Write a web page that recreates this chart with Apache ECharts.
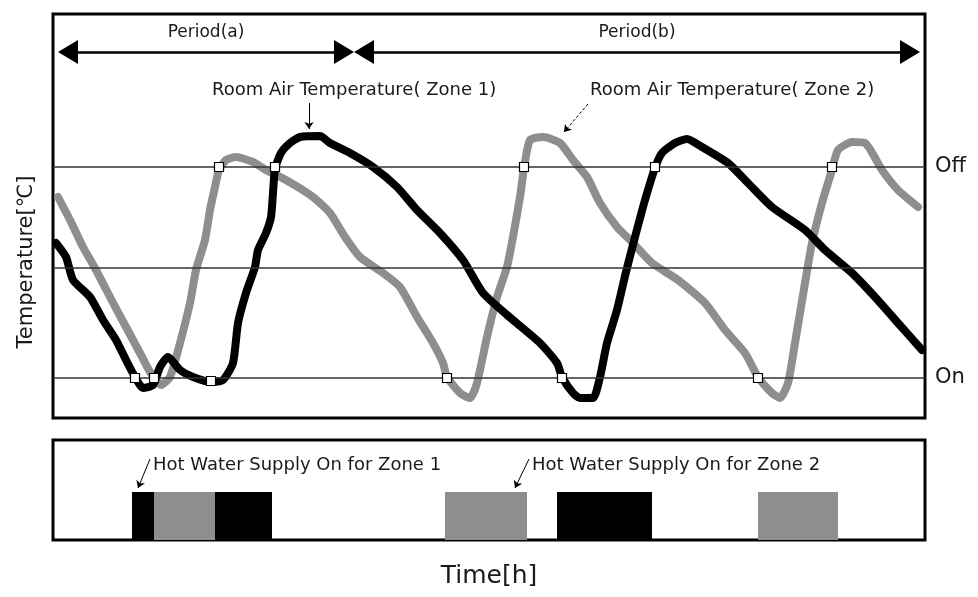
<!DOCTYPE html>
<html>
<head>
<meta charset="utf-8">
<title>Room air temperature and hot water supply</title>
<script src="https://cdn.jsdelivr.net/npm/echarts@6/dist/echarts.min.js"></script>
<style>
    html, body { margin: 0; padding: 0; background: #fff; }
    #main { width: 978px; height: 597px; }
</style>
</head>
<body>
<div id="main"></div>
<script>
    // room air temperature, zone 1 (black) and zone 2 (grey)
    var zone1Time = [3, 13, 20, 37, 50, 63, 73, 82, 90, 100, 107, 115, 127, 140, 158, 170, 180, 185, 193, 202,
        205, 213, 218, 220, 222, 228, 237, 247, 267, 277, 297, 320, 344, 364, 387, 410, 430, 460, 487, 504,
        509, 520, 527, 540, 547, 554, 564, 573, 582, 592, 602, 609, 622, 634, 649, 675, 695, 719, 752, 772,
        799, 822, 845, 869];
    var zone1Temp = [175, 161, 138, 121, 98, 78, 58, 41, 30, 33, 51, 61, 48, 41, 36, 38, 55, 95, 125, 151,
        168, 185, 201, 225, 249, 265, 275, 281, 282, 275, 265, 251, 231, 208, 185, 158, 125, 98, 75, 55,
        41, 25, 20, 20, 41, 75, 108, 146, 181, 218, 250, 265, 275, 279, 271, 255, 235, 211, 188, 168,
        145, 121, 95, 68];
    var zone2Time = [5, 17, 30, 43, 57, 73, 87, 97, 101, 108, 117, 127, 137, 143, 152, 157, 162, 166, 173, 183,
        200, 213, 233, 260, 277, 292, 307, 330, 347, 364, 380, 390, 394, 407, 417, 424, 434, 444, 454, 460,
        467, 471, 477, 490, 507, 520, 534, 547, 564, 580, 599, 625, 652, 672, 692, 705, 719, 727, 735, 742,
        752, 759, 769, 779, 785, 799, 812, 829, 845, 865];
    var zone2Temp = [221, 198, 171, 148, 121, 91, 65, 46, 41, 33, 41, 75, 115, 148, 178, 208, 231, 248, 258, 261,
        256, 248, 238, 221, 205, 181, 161, 145, 131, 101, 75, 55, 41, 25, 20, 35, 81, 121, 151, 181,
        221, 250, 278, 281, 275, 258, 241, 215, 191, 175, 155, 138, 115, 88, 65, 41, 25, 20, 35, 75,
        135, 175, 215, 248, 268, 276, 275, 248, 228, 211];

    // thermostat switching points
    var zone1Switch = [[82, 40], [158, 37], [222, 251], [509, 40], [602, 251]];
    var zone2Switch = [[101, 40], [166, 251], [394, 40], [471, 251], [705, 40], [779, 251]];

    // set point lines
    var levelNames = ['Off', '', 'On'];
    var levelValues = [251, 150, 40];

    // periods
    var periodNames = ['Period(a)', 'Period(b)'];
    var periodStart = [5, 301];
    var periodEnd = [301, 867];

    // hot water supply on/off intervals
    var supplyStart = [79, 101, 162, 392, 504, 705];
    var supplyEnd = [101, 162, 219, 474, 599, 785];
    var supplyZone = [1, 2, 1, 2, 1, 2];

    var BLACK = '#000';
    var GREY = '#8e8e8e';
    var TEXT = '#1a1a1a';
    var FONT = 'DejaVu Sans';

    var myChart = echarts.init(document.getElementById('main'));

    function zip(xs, ys) {
        return xs.map(function (x, i) { return [x, ys[i]]; });
    }

    var zoneColor = {1: BLACK, 2: GREY};
    var supplyData = supplyStart.map(function (s, i) { return [s, supplyEnd[i], supplyZone[i]]; });

    var option = {
        animation: false,
        textStyle: {fontFamily: FONT},
        grid: [
            {left: 53, top: 14, width: 872, height: 404, show: true, borderColor: BLACK, borderWidth: 3},
            {left: 53, top: 440, width: 872, height: 100, show: true, borderColor: BLACK, borderWidth: 3}
        ],
        xAxis: [
            {type: 'value', gridIndex: 0, min: 0, max: 872, show: false},
            {
                type: 'value', gridIndex: 1, min: 0, max: 872,
                axisLine: {show: false}, axisTick: {show: false}, axisLabel: {show: false}, splitLine: {show: false},
                name: 'Time[h]', nameLocation: 'middle', nameGap: 24,
                nameTextStyle: {fontSize: 25, color: TEXT, fontFamily: FONT}
            }
        ],
        yAxis: [
            {
                type: 'value', gridIndex: 0, min: 0, max: 404,
                axisLine: {show: false}, axisTick: {show: false}, axisLabel: {show: false}, splitLine: {show: false},
                name: 'Temperature[℃]', nameLocation: 'middle', nameGap: 16,
                nameTextStyle: {fontSize: 21, color: TEXT, fontFamily: FONT, padding: [0, 92, 0, 0]}
            },
            {type: 'value', gridIndex: 1, min: 0, max: 100, show: false}
        ],
        series: [
            {
                name: 'levels', type: 'line', data: [], xAxisIndex: 0, yAxisIndex: 0,
                markLine: {
                    silent: true, symbol: 'none',
                    lineStyle: {color: '#333', width: 1.5, type: 'solid'},
                    label: {position: 'end', distance: 10, formatter: '{b}', fontSize: 21, color: TEXT, fontFamily: FONT},
                    data: levelValues.map(function (v, i) { return {yAxis: v, name: levelNames[i]}; })
                }
            },
            {
                name: 'periods', type: 'line', data: [], xAxisIndex: 0, yAxisIndex: 0,
                markLine: {
                    silent: true, symbol: ['triangle', 'triangle'], symbolSize: [24, 20],
                    lineStyle: {color: BLACK, width: 2.5, type: 'solid'},
                    label: {position: 'insideMiddleTop', distance: 11, formatter: '{b}', fontSize: 17, color: TEXT, fontFamily: FONT},
                    data: periodNames.map(function (n, i) {
                        return [{coord: [periodStart[i] + 10, 366], name: n}, {coord: [periodEnd[i] - 10, 366]}];
                    })
                }
            },
            {
                name: 'Zone 2', type: 'line', xAxisIndex: 0, yAxisIndex: 0,
                data: zip(zone2Time, zone2Temp), symbol: 'none', z: 3, smooth: 0.2,
                lineStyle: {color: GREY, width: 8, cap: 'round', join: 'round'}
            },
            {
                name: 'Zone 1', type: 'line', xAxisIndex: 0, yAxisIndex: 0,
                data: zip(zone1Time, zone1Temp), symbol: 'none', z: 4, smooth: 0.2,
                lineStyle: {color: BLACK, width: 8, cap: 'round', join: 'round'}
            },
            {
                name: 'switch', type: 'scatter', xAxisIndex: 0, yAxisIndex: 0, z: 5,
                data: zone1Switch.concat(zone2Switch), symbol: 'rect', symbolSize: 9,
                itemStyle: {color: '#fff', borderColor: BLACK, borderWidth: 1.2, opacity: 1}
            },
            {
                name: 'notesTop', type: 'scatter', xAxisIndex: 0, yAxisIndex: 0, z: 6,
                symbolSize: 0, silent: true,
                itemStyle: {opacity: 1},
                label: {show: true, position: 'right', distance: 0, formatter: '{b}', fontSize: 18, color: TEXT, fontFamily: FONT},
                data: [
                    {name: 'Room Air Temperature( Zone 1)', value: [159, 328]},
                    {name: 'Room Air Temperature( Zone 2)', value: [537, 328]}
                ],
                markLine: {
                    silent: true, symbol: ['none', 'arrow'], symbolSize: 7,
                    label: {show: false},
                    data: [
                        [{coord: [256, 315], lineStyle: {color: BLACK, width: 1, type: 'solid'}}, {coord: [256, 289]}],
                        [{coord: [535, 314], lineStyle: {color: BLACK, width: 1, type: [3, 2]}}, {coord: [511, 286]}]
                    ]
                }
            },
            {
                name: 'supply', type: 'custom', xAxisIndex: 1, yAxisIndex: 1,
                data: supplyData,
                encode: {x: [0, 1]},
                renderItem: function (params, api) {
                    var a = api.coord([api.value(0), 0]);
                    var b = api.coord([api.value(1), 48]);
                    return {
                        type: 'rect',
                        shape: {x: a[0], y: b[1], width: b[0] - a[0], height: a[1] - b[1]},
                        style: {fill: zoneColor[api.value(2)]}
                    };
                }
            },
            {
                name: 'notesBottom', type: 'scatter', xAxisIndex: 1, yAxisIndex: 1, z: 6,
                symbolSize: 0, silent: true,
                itemStyle: {opacity: 1},
                label: {show: true, position: 'right', distance: 0, formatter: '{b}', fontSize: 18, color: TEXT, fontFamily: FONT},
                data: [
                    {name: 'Hot Water Supply On for Zone 1', value: [100, 75]},
                    {name: 'Hot Water Supply On for Zone 2', value: [479, 75]}
                ],
                markLine: {
                    silent: true, symbol: ['none', 'arrow'], symbolSize: 7,
                    lineStyle: {color: BLACK, width: 1, type: 'solid', curveness: 0.3},
                    label: {show: false},
                    data: [
                        [{coord: [97, 81]}, {coord: [85, 52]}],
                        [{coord: [476, 81]}, {coord: [462, 52]}]
                    ]
                }
            }
        ]
    };
    myChart.setOption(option);
</script>
</body>
</html>
